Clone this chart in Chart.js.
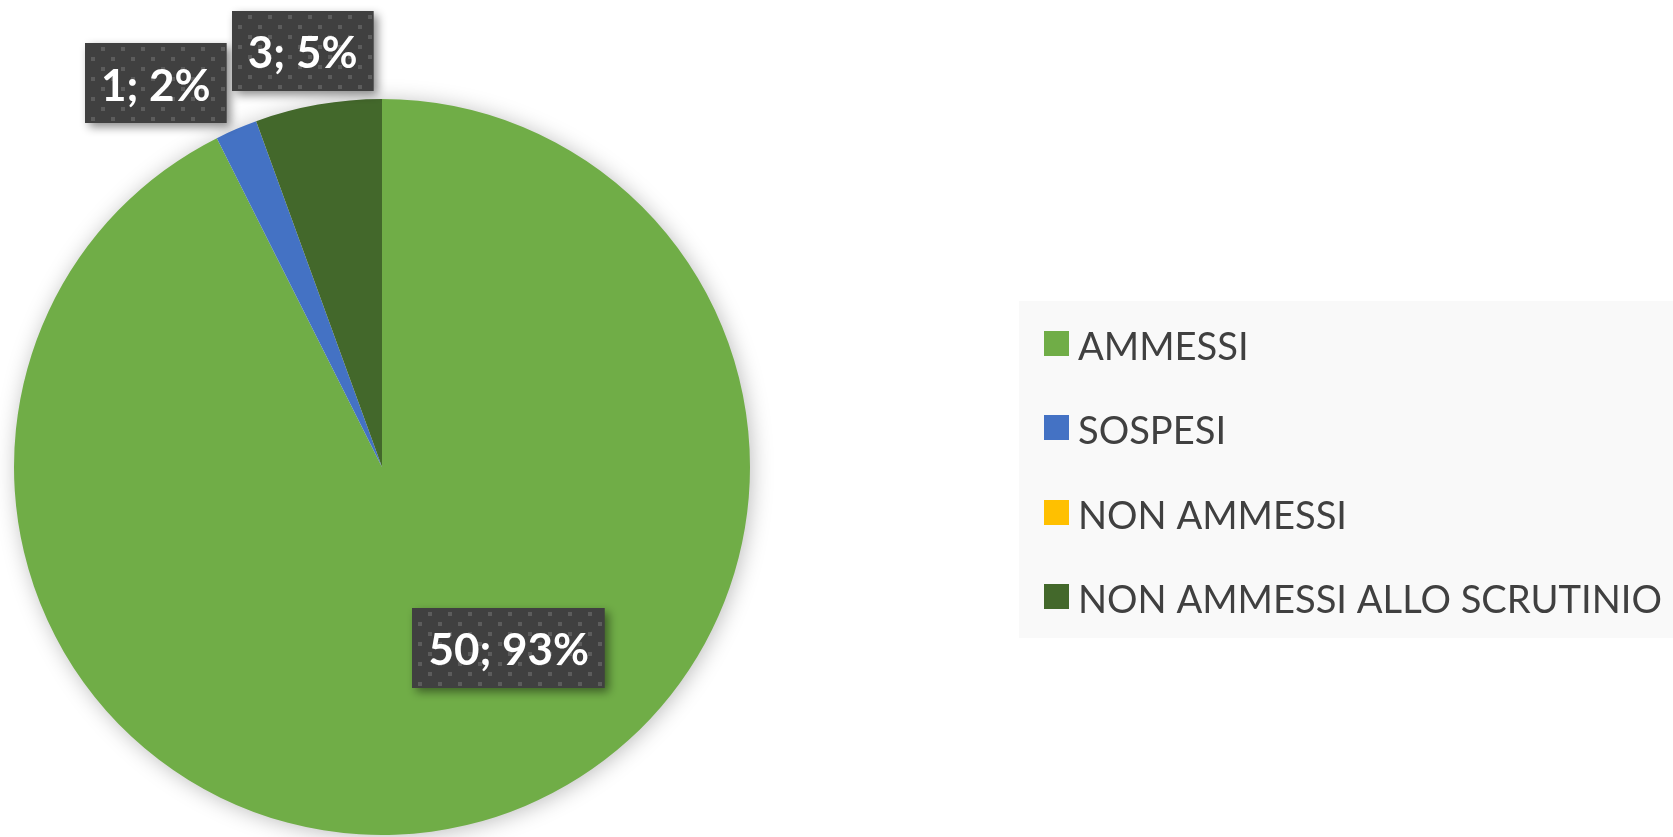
<!DOCTYPE html>
<html>
<head>
<meta charset="utf-8">
<script src="https://cdn.jsdelivr.net/npm/chart.js@4/dist/chart.umd.min.js"></script>
<style>
  html, body { margin: 0; padding: 0; background: #ffffff; }
  canvas { display: block; }
</style>
</head>
<body>
<canvas id="c" width="1673" height="837"></canvas>
<script>
// ---- data ----
const categories = ['AMMESSI', 'SOSPESI', 'NON AMMESSI', 'NON AMMESSI ALLO SCRUTINIO'];
const values = [50, 1, 0, 3];
const percentLabels = ['93%', '2%', '0%', '5%'];

// ---- styles ----
const colors = ['#70AD47', '#4472C4', '#FFC000', '#43682B'];
// label placement relative to each slice: radius fraction and angle offset (degrees)
const labelPlacement = [
  { rf: 0.60, da: -21.7 },
  { rf: 1.21, da: -7.2 },
  null,
  { rf: 1.15, da: -0.8 }
];

function makePattern(ctx) {
  const pc = document.createElement('canvas');
  pc.width = 20; pc.height = 20;
  const p = pc.getContext('2d');
  p.fillStyle = '#404040';
  p.fillRect(0, 0, 20, 20);
  p.fillStyle = '#5c5c5c';
  p.fillRect(16, 4, 4, 4);
  p.fillRect(6, 14, 4, 4);
  return ctx.createPattern(pc, 'repeat');
}

const pieShadow = {
  id: 'pieShadow',
  beforeDatasetsDraw(chart) {
    const arc = chart.getDatasetMeta(0).data[0];
    if (!arc) return;
    const ctx = chart.ctx;
    ctx.save();
    ctx.shadowColor = 'rgba(0,0,0,0.28)';
    ctx.shadowBlur = 22;
    ctx.shadowOffsetX = 2;
    ctx.shadowOffsetY = 2;
    ctx.fillStyle = '#ffffff';
    ctx.beginPath();
    ctx.arc(arc.x, arc.y, arc.outerRadius - 1, 0, Math.PI * 2);
    ctx.fill();
    ctx.restore();
  }
};

const dataLabels = {
  id: 'dataLabels',
  afterDatasetsDraw(chart) {
    const ctx = chart.ctx;
    const meta = chart.getDatasetMeta(0);
    const pattern = makePattern(ctx);
    ctx.save();
    ctx.font = 'bold 44px Lato';
    meta.data.forEach((arc, i) => {
      const pl = labelPlacement[i];
      if (!pl || values[i] === 0) return;
      const mid = (arc.startAngle + arc.endAngle) / 2 + pl.da * Math.PI / 180;
      const r = arc.outerRadius * pl.rf;
      const cx = arc.x + Math.cos(mid) * r;
      const cy = arc.y + Math.sin(mid) * r;
      const text = values[i] + '; ' + percentLabels[i];
      const tw = ctx.measureText(text).width;
      const w = tw + 32, h = 80;
      const x = Math.round(cx - w / 2), y = Math.round(cy - h / 2);
      ctx.save();
      ctx.shadowColor = 'rgba(0,0,0,0.45)';
      ctx.shadowBlur = 10;
      ctx.shadowOffsetX = 4;
      ctx.shadowOffsetY = 4;
      if (pattern.setTransform) pattern.setTransform(new DOMMatrix().translateSelf(x, y));
      ctx.fillStyle = pattern;
      ctx.fillRect(x, y, w, h);
      ctx.restore();
      ctx.fillStyle = '#ffffff';
      ctx.textAlign = 'center';
      ctx.textBaseline = 'middle';
      ctx.fillText(text, cx, cy + 3);
    });
    ctx.restore();
  }
};

const customLegend = {
  id: 'customLegend',
  afterDraw(chart) {
    const ctx = chart.ctx;
    ctx.save();
    ctx.fillStyle = '#f9f9f9';
    ctx.fillRect(1019, 301, 654, 337);
    ctx.font = '38px Lato';
    let maxW = 0;
    categories.forEach(c => { maxW = Math.max(maxW, ctx.measureText(c).width); });
    const sx = 584 / maxW;
    const rowY0 = 343.5, rowStep = 84.3;
    categories.forEach((c, i) => {
      const cy = rowY0 + i * rowStep;
      ctx.fillStyle = colors[i];
      ctx.fillRect(1044, Math.round(cy - 12.5), 25, 25);
      ctx.save();
      ctx.translate(1078, cy + 16.5);
      ctx.scale(sx, 1);
      ctx.fillStyle = '#404040';
      ctx.textAlign = 'left';
      ctx.textBaseline = 'alphabetic';
      ctx.fillText(c, 0, 0);
      ctx.restore();
    });
    ctx.restore();
  }
};

function build() {
  new Chart(document.getElementById('c'), {
    type: 'pie',
    data: {
      labels: categories,
      datasets: [{
        data: values,
        backgroundColor: colors,
        borderWidth: 0
      }]
    },
    options: {
      responsive: false,
      animation: false,
      layout: { padding: { left: 14, right: 923, top: 99, bottom: 2 } },
      plugins: {
        legend: { display: false },
        tooltip: { enabled: false }
      }
    },
    plugins: [pieShadow, dataLabels, customLegend]
  });
}

Promise.all([
  document.fonts.load('bold 44px Lato'),
  document.fonts.load('38px Lato')
]).then(build, build);
</script>
</body>
</html>
